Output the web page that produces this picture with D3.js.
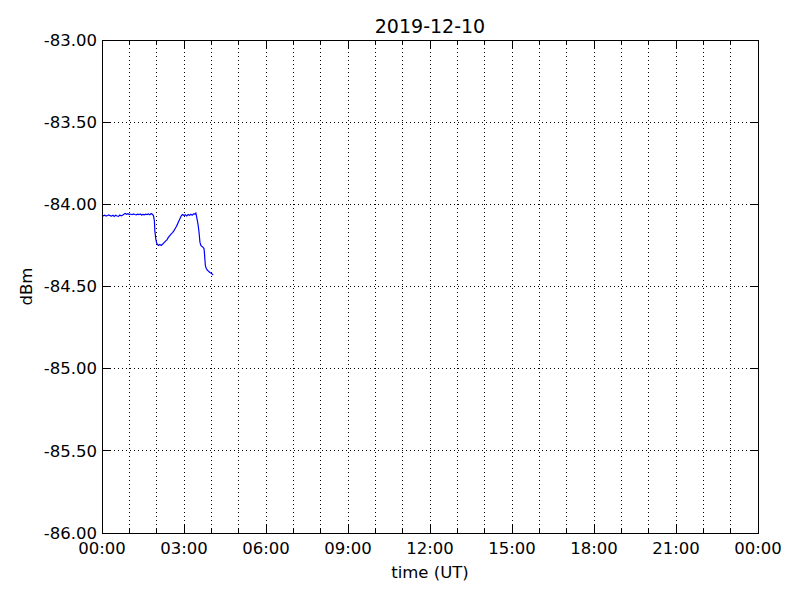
<!DOCTYPE html>
<html><head><meta charset="utf-8">
<script src="https://cdn.jsdelivr.net/npm/d3@7"></script>
<style>body{margin:0;background:#fff}svg{display:block}text{font-family:"DejaVu Sans",sans-serif;}</style>
</head><body>
<svg id="c" width="800" height="600"></svg>
<script>
const title = "2019-12-10";
const xLabel = "time (UT)";
const yLabel = "dBm";
const yTicks = [-83.0, -83.5, -84.0, -84.5, -85.0, -85.5, -86.0];
const xTickHours = [0, 3, 6, 9, 12, 15, 18, 21, 24];
const xTickLabels = ["00:00","03:00","06:00","09:00","12:00","15:00","18:00","21:00","00:00"];
// minutes after 00:00 UT
const minutes = [0,3,6,9,12,15,18,21,24,27,30,33,36,39,42,45,48,51,54,57,60,63,66,69,72,75,78,81,84,87,90,93,96,99,102,105,108,111,113,115,116,118,120,122,124,127,130,134,137,140,143,146,149,152,155,158,160,163,165,167,169,171,173,175,177,180,183,186,189,192,195,198,201,204,206,208,210,211,213,215,217,219,222,224,225,226,227,229,231,233,235,237,240,242,244];
const dbm = [-84.065,-84.07,-84.066,-84.071,-84.068,-84.064,-84.069,-84.072,-84.067,-84.074,-84.066,-84.071,-84.073,-84.065,-84.07,-84.066,-84.06,-84.056,-84.061,-84.057,-84.062,-84.059,-84.063,-84.058,-84.062,-84.064,-84.06,-84.063,-84.059,-84.065,-84.061,-84.064,-84.06,-84.062,-84.058,-84.063,-84.056,-84.062,-84.07,-84.1,-84.16,-84.21,-84.235,-84.245,-84.25,-84.244,-84.25,-84.24,-84.232,-84.222,-84.215,-84.2,-84.19,-84.18,-84.172,-84.16,-84.15,-84.136,-84.125,-84.112,-84.1,-84.088,-84.075,-84.066,-84.062,-84.068,-84.063,-84.07,-84.062,-84.067,-84.06,-84.066,-84.058,-84.06,-84.053,-84.08,-84.11,-84.126,-84.17,-84.23,-84.25,-84.255,-84.262,-84.27,-84.3,-84.34,-84.375,-84.39,-84.4,-84.405,-84.41,-84.415,-84.42,-84.425,-84.43];

const svg = d3.select("#c");
const L = 102, R = 758, T = 40, B = 533;
const x = d3.scaleLinear().domain([0, 24*60]).range([L, R]);
const y = d3.scaleLinear().domain([-86, -83]).range([B, T]);
const fs = "16.5px";

// grid
const hours = d3.range(1, 24);
svg.append("g").selectAll("line").data(hours).join("line")
  .attr("x1", d => x(d*60)).attr("x2", d => x(d*60)).attr("y1", T).attr("y2", B)
  .attr("stroke", "#000").attr("stroke-width", 1).attr("stroke-dasharray", "1,3")
  .attr("shape-rendering", "crispEdges");
svg.append("g").selectAll("line").data(yTicks.slice(1, -1)).join("line")
  .attr("x1", L).attr("x2", R).attr("y1", d => y(d)).attr("y2", d => y(d))
  .attr("stroke", "#000").attr("stroke-width", 1).attr("stroke-dasharray", "1,3")
  .attr("shape-rendering", "crispEdges");

// ticks (inward)
const tk = svg.append("g").attr("stroke", "#000").attr("shape-rendering", "crispEdges");
d3.range(0, 25).forEach(h => {
  const len = (h % 3 === 0) ? 8 : 4;
  tk.append("line").attr("x1", x(h*60)).attr("x2", x(h*60)).attr("y1", B).attr("y2", B - len);
  tk.append("line").attr("x1", x(h*60)).attr("x2", x(h*60)).attr("y1", T).attr("y2", T + len);
});
yTicks.forEach(v => {
  tk.append("line").attr("x1", L).attr("x2", L + 8).attr("y1", y(v)).attr("y2", y(v));
  tk.append("line").attr("x1", R).attr("x2", R - 8).attr("y1", y(v)).attr("y2", y(v));
});

// line
const pts = minutes.map((m, i) => [m, dbm[i]]);
svg.append("path").datum(pts)
  .attr("d", d3.line().x(d => x(d[0])).y(d => y(d[1])))
  .attr("fill", "none").attr("stroke", "#0000ff").attr("stroke-width", 1.2);

// frame
svg.append("rect").attr("x", L).attr("y", T).attr("width", R - L).attr("height", B - T)
  .attr("fill", "none").attr("stroke", "#000").attr("stroke-width", 1).attr("shape-rendering", "crispEdges");

// tick labels
svg.append("g").selectAll("text").data(yTicks).join("text")
  .attr("x", L - 5).attr("y", d => y(d)).attr("dy", "0.35em").attr("text-anchor", "end")
  .style("font-size", fs).text(d => d.toFixed(2));
svg.append("g").selectAll("text").data(xTickHours).join("text")
  .attr("x", d => x(d*60)).attr("y", B + 21).attr("text-anchor", "middle")
  .style("font-size", fs).text((d, i) => xTickLabels[i]);

// labels
svg.append("text").attr("x", (L + R)/2).attr("y", 33).attr("text-anchor", "middle")
  .style("font-size", "19px").text(title);
svg.append("text").attr("x", (L + R)/2).attr("y", 578).attr("text-anchor", "middle")
  .style("font-size", fs).text(xLabel);
svg.append("text").attr("transform", `translate(32,${(T+B)/2}) rotate(-90)`).attr("text-anchor", "middle")
  .style("font-size", fs).text(yLabel);
</script>
</body></html>
